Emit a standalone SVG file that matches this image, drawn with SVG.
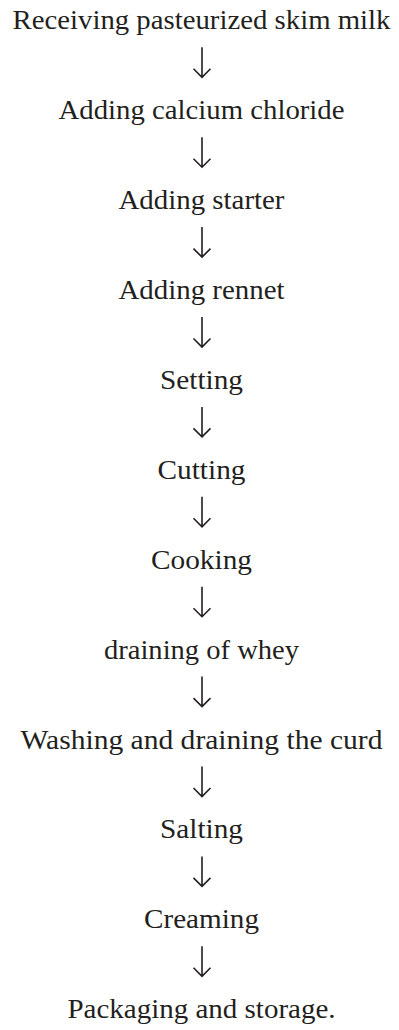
<svg xmlns="http://www.w3.org/2000/svg" width="399" height="1030" viewBox="0 0 399 1030">
<style>
text{font-family:"Liberation Serif","Times New Roman",serif;font-size:28px;fill:#231f20;text-anchor:middle}
.arr{fill:none;stroke:#231f20;stroke-width:1.6;stroke-linecap:butt;stroke-linejoin:miter}
</style>
<defs>
<path id="ar" class="arr" d="M0,-30 V0 M-8.5,-8.5 L0,0 L8.5,-8.5"/>
</defs>
<rect width="399" height="1030" fill="#fff"/>
<g id="n1"><text x="201.5" y="29.3" textLength="378" lengthAdjust="spacingAndGlyphs">Receiving pasteurized skim milk</text></g>
<g id="n2"><text x="201.5" y="119.2" textLength="286" lengthAdjust="spacingAndGlyphs">Adding calcium chloride</text></g>
<g id="n3"><text x="201.5" y="209.1" textLength="166" lengthAdjust="spacingAndGlyphs">Adding starter</text></g>
<g id="n4"><text x="201.5" y="299" textLength="166" lengthAdjust="spacingAndGlyphs">Adding rennet</text></g>
<g id="n5"><text x="201.5" y="388.9" textLength="83" lengthAdjust="spacingAndGlyphs">Setting</text></g>
<g id="n6"><text x="201.5" y="478.8" textLength="88" lengthAdjust="spacingAndGlyphs">Cutting</text></g>
<g id="n7"><text x="201.5" y="568.7" textLength="101" lengthAdjust="spacingAndGlyphs">Cooking</text></g>
<g id="n8"><text x="201.5" y="658.6" textLength="195" lengthAdjust="spacingAndGlyphs">draining of whey</text></g>
<g id="n9"><text x="201.5" y="748.5" textLength="362" lengthAdjust="spacingAndGlyphs">Washing and draining the curd</text></g>
<g id="n10"><text x="201.5" y="838.4" textLength="83" lengthAdjust="spacingAndGlyphs">Salting</text></g>
<g id="n11"><text x="201.5" y="928.3" textLength="115" lengthAdjust="spacingAndGlyphs">Creaming</text></g>
<g id="n12"><text x="201.5" y="1018.2" textLength="268" lengthAdjust="spacingAndGlyphs">Packaging and storage.</text></g>
<g id="connectors">
<use href="#ar" x="202" y="77.3"/>
<use href="#ar" x="202" y="167.2"/>
<use href="#ar" x="202" y="257.1"/>
<use href="#ar" x="202" y="347"/>
<use href="#ar" x="202" y="436.9"/>
<use href="#ar" x="202" y="526.8"/>
<use href="#ar" x="202" y="616.7"/>
<use href="#ar" x="202" y="706.6"/>
<use href="#ar" x="202" y="796.5"/>
<use href="#ar" x="202" y="886.4"/>
<use href="#ar" x="202" y="976.3"/>
</g>
</svg>
